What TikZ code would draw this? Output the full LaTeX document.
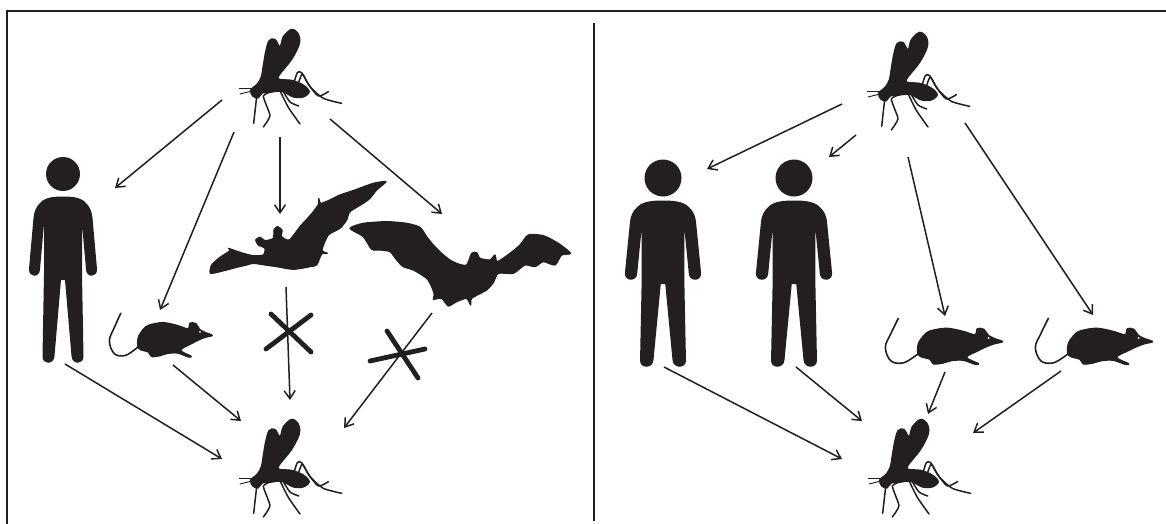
\documentclass[tikz,border=0pt]{standalone}
\usetikzlibrary{arrows.meta}
\definecolor{ink}{HTML}{231F20}
\tikzset{
  icon/.style={fill=ink,draw=ink,line width=1.2pt,line join=round},
  thin leg/.style={draw=ink,line width=1.5pt,line cap=round,line join=round},
  link/.style={draw=ink,line width=1.5pt,-{Straight Barb[length=8pt,width=11pt,line width=1.5pt]}},
  crossbar/.style={draw=ink,line width=4.8pt,line cap=round},
  frameline/.style={draw=ink,line width=2.2pt},
  outline/.style={smooth cycle,tension=0.55}
}
% mosquito: coordinates are 3x crop pixels
\newcommand\mosquito[2]{%
\begin{scope}[shift={(#1,#2)},x=0.3333pt,y=-0.3333pt]
  \filldraw[icon] plot[outline] coordinates {(92,210) (112,192) (124,170) (130,135) (137,95) (147,62) (165,58) (180,80) (190,50) (215,28) (235,42) (238,72) (215,118) (178,165) (178,178) (215,181) (250,195) (268,215) (250,231) (220,231) (185,214) (150,217) (127,219) (114,234) (98,228)};
  \draw[thin leg] plot[smooth,tension=.4] coordinates {(222,188) (232,158) (245,158) (270,200) (310,235) (365,250)};
  \draw[thin leg] plot[smooth,tension=.4] coordinates {(236,188) (247,162) (265,192) (295,228) (325,215)};
  \draw[thin leg] plot[smooth,tension=.4] coordinates {(178,208) (205,262) (240,312)};
  \draw[thin leg] plot[smooth,tension=.4] coordinates {(190,215) (210,246) (236,258)};
  \draw[thin leg] plot[smooth,tension=.3] coordinates {(162,212) (130,228) (150,287) (130,321)};
  \draw[thin leg] (110,230) -- (101,310);
  \draw[thin leg,line width=.9pt] (100,205) -- (58,205);
  \draw[thin leg,line width=.9pt] (100,212) -- (60,222);
\end{scope}}
% human: origin at head centre
\newcommand\human[4]{%
\fill[ink] (#1,#2) circle[radius=#4];
\begin{scope}[shift={(#1,#2)},xscale=#3]
  \fill[ink] (0,22.5) .. controls (-8,22.5) and (-18,23) .. (-23,29) .. controls (-27,33) and (-29,38) .. (-29.5,44)
    -- (-34,95) .. controls (-34.5,104) and (-23,104) .. (-23,95)
    -- (-19,50) -- (-19,100) -- (-20.5,182)
    .. controls (-21,191) and (-9,191) .. (-8.5,182)
    -- (-2,106) -- (2,106) -- (8.5,182)
    .. controls (9,191) and (21,191) .. (20.5,182)
    -- (19,100) -- (19,50) -- (23,95)
    .. controls (23,104) and (34.5,104) .. (34,95)
    -- (29.5,44) .. controls (29,38) and (27,33) .. (23,29) .. controls (18,23) and (8,22.5) .. (0,22.5) -- cycle;
\end{scope}}
% rat: coordinates are 3x crop pixels
\newcommand\rat[4]{%
\begin{scope}[shift={(#1,#2)},x=#3*0.3333pt,y=-#4*0.3333pt]
  \draw[thin leg,line width=1.6pt] plot[smooth,tension=.6] coordinates {(55,25) (33,70) (16,112) (33,153) (72,158) (116,130)};
  \filldraw[icon] plot[outline] coordinates {(113,128) (116,98) (140,68) (170,58) (205,55) (250,64) (285,74) (292,56) (312,58) (325,76) (345,86) (368,95) (345,101) (325,108) (295,122) (260,142) (296,161) (285,163) (250,151) (215,152) (190,159) (160,162) (150,148) (122,140)};
  \fill[white] (326,84) circle[radius=3];
\end{scope}}
\begin{document}
\begin{tikzpicture}[x=1pt,y=-1pt]
\useasboundingbox (0,0) rectangle (1166,524);
\fill[white] (0,0) rectangle (1166,524);
% frame and divider
\coordinate (fb) at (7,524); \coordinate (ftl) at (7,11); \coordinate (ftr) at (1166,11);
\coordinate (dt) at (594,23); \coordinate (db) at (594,521);
\draw[frameline] (fb) -- (ftl) -- (ftr);
\draw[frameline] (dt) -- (db);
% mosquitoes
\mosquito{220}{20}
\mosquito{220}{410}
\mosquito{848}{23}
\mosquito{849}{410}
% humans
\human{63}{174}{1}{17}
\human{663}{178}{1.12}{18.5}
\human{794}{178}{1.12}{18.5}
% rats
\rat{104.7}{305.3}{.877}{.95}
\rat{880}{310}{1}{1}
\rat{1030}{310}{1}{1}
% bats
\begin{scope}[shift={(200,170)},x=0.3333pt,y=-0.3333pt]
  \filldraw[icon] plot[smooth cycle,tension=.4] coordinates {(558,35) (520,40) (470,58) (420,75) (385,92) (362,100) (356,85) (356,102) (340,125) (320,148) (300,170) (268,210) (245,200) (246,180) (232,170) (222,180) (220,205) (195,212) (180,202) (167,210) (175,225) (195,235) (190,255) (160,257) (130,250) (100,240) (85,235) (90,242) (60,262) (35,285) (32,310) (80,300) (110,292) (140,285) (160,280) (195,285) (230,290) (280,298) (330,290) (350,285) (365,252) (382,250) (366,240) (385,195) (420,175) (440,150) (450,125) (490,100) (510,85) (530,60)};
  \filldraw[icon] plot[smooth cycle,tension=.4] coordinates {(450,175) (490,160) (560,155) (620,160) (660,172) (680,200) (700,225) (725,250) (750,270) (775,282) (800,285) (815,250) (830,248) (840,265) (870,270) (885,255) (892,275) (930,250) (960,225) (985,195) (1030,197) (1075,220) (1112,250) (1085,255) (1065,285) (1030,275) (1005,290) (975,285) (940,310) (895,310) (880,338) (860,360) (815,385) (812,405) (800,385) (770,395) (745,408) (725,385) (700,388) (703,375) (695,350) (680,325) (640,300) (610,290) (590,270) (570,245) (540,240) (515,238) (490,200)};
\end{scope}
% connector ends
\foreach \n/\x/\y in {
  a1/222/100, a2/115/188, b1/234/132, b2/160/310, c1/280/137, c2/280/214, d1/330/119, d2/442/214,
  e1/65/364, e2/222/459, f1/173/365, f2/241/421, g1/286/287, g2/290/400, h1/432/313, h2/344/428,
  p1/842/104, p2/707/169, q1/856/135, q2/829/157, r1/908/157, r2/945/316, s1/965/123, s2/1093/315,
  t1/664/367, t2/842/459, u1/796/367, u2/862/421, v1/945/372, v2/928/414, w1/1061/371, w2/973/433,
  xa1/266/349, xa2/311/315, xb1/271/314, xb2/311/352, xc1/370/361, xc2/425/349, xd1/387/331, xd2/418/378}
  {\coordinate (\n) at (\x,\y);}
\foreach \p in {a,b,c,d,e,f,g,h,p,q,r,s,t,u,v,w}
  \draw[link] (\p1) -- (\p2);
% crosses
\draw[crossbar] (xa1) -- (xa2);
\draw[crossbar] (xb1) -- (xb2);
\draw[crossbar] (xc1) -- (xc2);
\draw[crossbar] (xd1) -- (xd2);
\end{tikzpicture}
\end{document}
